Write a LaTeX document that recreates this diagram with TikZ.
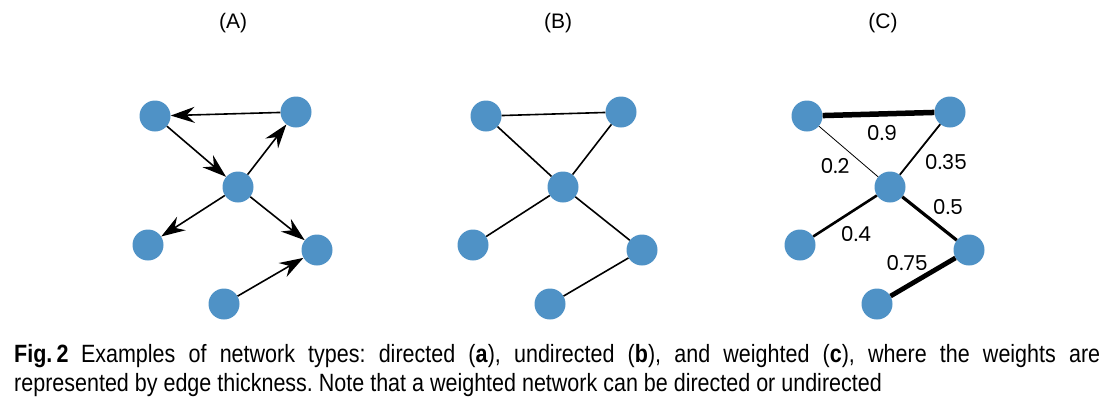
\documentclass[tikz,border=0pt]{standalone}
\usepackage{fontspec}
\setmainfont{Liberation Sans}
\newfontfamily\capfont[FakeStretch=0.86]{Liberation Sans}
\newfontfamily\wfont{Poppins}
\usetikzlibrary{arrows.meta}
\definecolor{nodeblue}{RGB}{79,146,198}
\begin{document}
\begin{tikzpicture}[x=1pt,y=-1pt,>={Stealth[length=24pt,width=16pt,inset=8pt]},
  every node/.style={font=\fontsize{21}{21}\selectfont},
  vertex/.style={circle,fill=nodeblue,minimum size=31pt,inner sep=0pt},
  edge/.style={line width=1.6pt},
  wlabel/.style={font=\wfont\fontsize{20.5}{21}\selectfont}]
\useasboundingbox (0,0) rectangle (1115,410);
% panel titles
\node (tA) at (233,23) {(A)};
\node (tB) at (558,23) {(B)};
\node (tC) at (883,23) {(C)};
% (A) directed
\node[vertex] (A1) at (155,116) {};
\node[vertex] (A2) at (296,112) {};
\node[vertex] (A3) at (238,187) {};
\node[vertex] (A4) at (148,245) {};
\node[vertex] (A5) at (317,250) {};
\node[vertex] (A6) at (224,304) {};
\draw[edge,->] (A2) -- (A1);
\draw[edge,->] (A1) -- (A3);
\draw[edge,->] (A3) -- (A2);
\draw[edge,->] (A3) -- (A4);
\draw[edge,->] (A3) -- (A5);
\draw[edge,->] (A6) -- (A5);
% (B) undirected
\node[vertex] (B1) at (486,116) {};
\node[vertex] (B2) at (621,112) {};
\node[vertex] (B3) at (563,187) {};
\node[vertex] (B4) at (473,245) {};
\node[vertex] (B5) at (642,250) {};
\node[vertex] (B6) at (550,304) {};
\draw[edge] (B1) -- (B2);
\draw[edge] (B1) -- (B3);
\draw[edge] (B3) -- (B2);
\draw[edge] (B3) -- (B4);
\draw[edge] (B3) -- (B5);
\draw[edge] (B5) -- (B6);
% (C) weighted
\node[vertex] (C1) at (807,116) {};
\node[vertex] (C2) at (950,112) {};
\node[vertex] (C3) at (890,187) {};
\node[vertex] (C4) at (800,245) {};
\node[vertex] (C5) at (969,250) {};
\node[vertex] (C6) at (877,304) {};
\draw[line width=5.5pt] (C1) -- (C2);
\draw[line width=0.8pt] (C1) -- (C3);
\draw[line width=1.8pt] (C2) -- (C3);
\draw[line width=2.6pt] (C3) -- (C4);
\draw[line width=3.2pt] (C3) -- (C5);
\draw[line width=4.8pt] (C5) -- (C6);
\node[wlabel] (w09) at (882,133) {0.9};
\node[wlabel] (w02) at (835,166) {0.2};
\node[wlabel] (w035) at (946,162) {0.35};
\node[wlabel] (w04) at (856,234) {0.4};
\node[wlabel] (w05) at (948,207) {0.5};
\node[wlabel] (w075) at (907,263) {0.75};
% caption
\node[anchor=north west,text width=1086pt,align=justify,inner sep=0pt,
  font=\capfont\fontsize{25}{29}\selectfont\frenchspacing] (cap) at (14,344)
  {\textbf{Fig.\,2}\enspace Examples of network types: directed (\textbf{a}), undirected (\textbf{b}), and weighted (\textbf{c}), where the weights are\linebreak represented by edge thickness. Note that a weighted network can be directed or undirected};
\end{tikzpicture}
\end{document}
